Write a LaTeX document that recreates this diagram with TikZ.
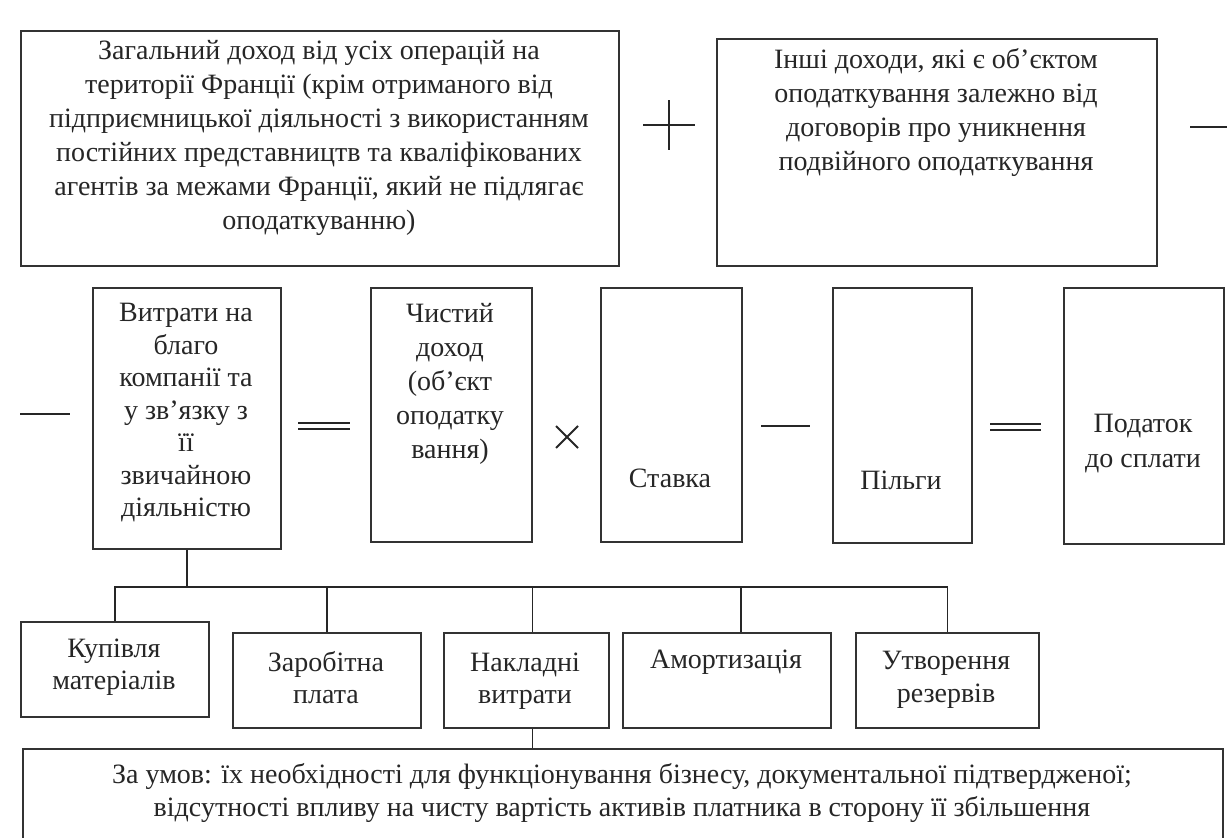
\documentclass[tikz,border=0pt]{standalone}
\usepackage{fontspec}
\setmainfont{Liberation Serif}
\begin{document}
\begin{tikzpicture}[x=1pt,y=-1pt,
  box/.style={draw=black!80,line width=1.7pt,anchor=north west,inner sep=0pt,fill=white},
  txt/.style={align=center,inner sep=0pt,text=black!85,font=\fontsize{28}{33}\selectfont},
  sp/.style={font=\fontsize{28}{#1}\selectfont},
  op/.style={draw=black!85,line width=2.2pt},
  link/.style={draw=black!85,line width=1.5pt}]
\useasboundingbox (0,0) rectangle (1227,838);
\clip (0,0) rectangle (1227,838);
\fill[white] (0,0) rectangle (1227,838);
% top row
\node[box,minimum width=598pt,minimum height=235pt] (gen) at (20,30) {};
\node[txt,sp=34] (gent) at (319,138) {Загальний доход від усіх операцій на\\території Франції (крім отриманого від\\підприємницької діяльності з використанням\\постійних представництв та кваліфікованих\\агентів за межами Франції, який не підлягає\\оподаткуванню)};
\node[box,minimum width=440pt,minimum height=227pt] (oth) at (716,38) {};
\node[txt,sp=34] (otht) at (936,112) {Інші доходи, які є об’єктом\\оподаткування залежно від\\договорів про уникнення\\подвійного оподаткування};
% middle row
\node[box,minimum width=188pt,minimum height=261pt] (vit) at (92,287) {};
\node[txt,sp=32.5] (vitt) at (186,413) {Витрати на\\благо\\компанії та\\у зв’язку з\\її\\звичайною\\діяльністю};
\node[box,minimum width=161pt,minimum height=254pt] (net) at (370,287) {};
\node[txt,sp=34] (nett) at (450,384) {Чистий\\доход\\(об’єкт\\оподатку\\вання)};
\node[box,minimum width=141pt,minimum height=254pt] (rate) at (600,287) {};
\node[txt] (ratet) at (670,478) {Ставка};
\node[box,minimum width=139pt,minimum height=255pt] (ben) at (832,287) {};
\node[txt] (bent) at (901,480) {Пільги};
\node[box,minimum width=160pt,minimum height=256pt] (tax) at (1063,287) {};
\node[txt,sp=35] (taxt) at (1143,444) {Податок\\до сплати};
% operators
\draw[op] (643,125) -- (695,125) (669,100) -- (669,150);
\draw[op] (1190,127) -- (1235,127);
\draw[op] (20,414) -- (70,414);
\draw[op,line width=2pt] (298,423) -- (350,423) (298,429) -- (350,429);
\draw[op,line width=1.8pt] (556,426) -- (578,448) (578,426) -- (556,448);
\draw[op] (761,426) -- (810,426);
\draw[op,line width=2pt] (990,424) -- (1041,424) (990,430) -- (1041,430);
% bottom row
\node[box,minimum width=188pt,minimum height=95pt] (k1) at (20,621) {};
\node[txt,sp=32] (k1t) at (114,667) {Купівля\\матеріалів};
\node[box,minimum width=188pt,minimum height=95pt] (k2) at (232,632) {};
\node[txt,sp=32] (k2t) at (326,678) {Заробітна\\плата};
\node[box,minimum width=165pt,minimum height=95pt] (k3) at (443,632) {};
\node[txt,sp=32] (k3t) at (525,681) {Накладні\\витрати};
\node[box,minimum width=208pt,minimum height=95pt] (k4) at (622,632) {};
\node[txt] (k4t) at (726,662) {Амортизація};
\node[box,minimum width=183pt,minimum height=95pt] (k5) at (855,632) {};
\node[txt,sp=33] (k5t) at (946,680) {Утворення\\резервів};
\node[box,minimum width=1200pt,minimum height=110pt] (cond) at (22,748) {};
\node[txt,sp=33] (condt) at (622,793) {За умов: їх необхідності для функціонування бізнесу, документальної підтвердженої;\\відсутності впливу на чисту вартість активів платника в сторону її збільшення};
% connectors
\coordinate (bus) at (0,587);
\draw[link] (vit.south) -- (vit.south |- bus);
\draw[link] (k1.north) |- (k5.north |- bus) -- (k5.north);
\draw[link] (k2.north) -- (k2.north |- bus);
\draw[link] ([xshift=6pt]k3.north) -- ([xshift=6pt]k3.north |- bus);
\draw[link] ([xshift=14pt]k4.north) -- ([xshift=14pt]k4.north |- bus);
\draw[link] ([xshift=6pt]k3.south) -- ([xshift=6pt]k3.south |- cond.north);
\end{tikzpicture}
\end{document}
